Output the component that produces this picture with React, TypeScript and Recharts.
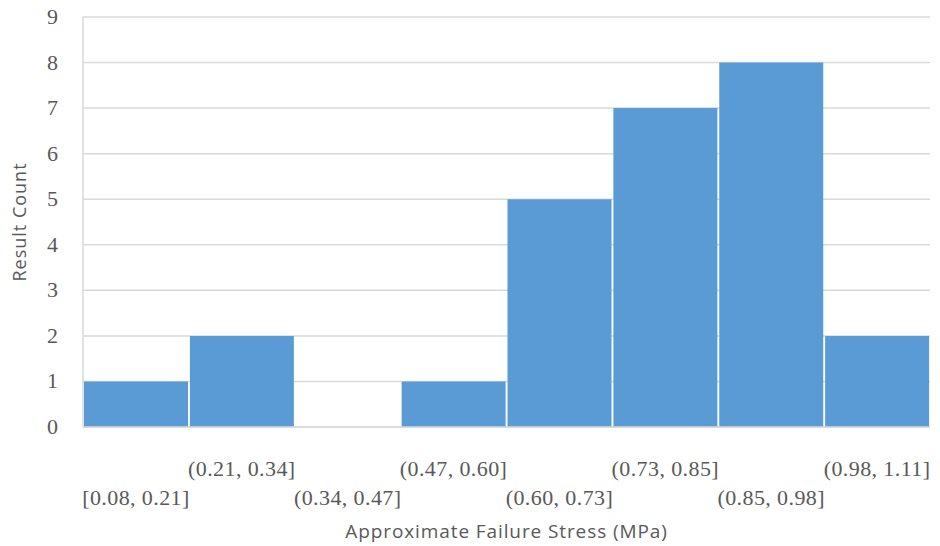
import React from 'react';
import { BarChart, Bar, XAxis, YAxis, CartesianGrid } from 'recharts';

const bins = [
  '[0.08, 0.21]',
  '(0.21, 0.34]',
  '(0.34, 0.47]',
  '(0.47, 0.60]',
  '(0.60, 0.73]',
  '(0.73, 0.85]',
  '(0.85, 0.98]',
  '(0.98, 1.11]',
];
const counts = [1, 2, 0, 1, 5, 7, 8, 2];
const yTicks = [0, 1, 2, 3, 4, 5, 6, 7, 8, 9];

const data = bins.map((b, i) => ({ bin: b, count: counts[i] }));

const serif = '"Liberation Serif", "DejaVu Serif", serif';
const sans = '"Open Sans", "Noto Sans", sans-serif';

const XTick = (props: any) => {
  const { x, y, payload, index } = props;
  const dy = index % 2 === 0 ? 70 : 41;
  return (
    <text
      x={x}
      y={y + dy}
      textAnchor="middle"
      fill="#595959"
      fontFamily={serif}
      fontSize={22}
      letterSpacing={0.4}
    >
      {payload.value}
    </text>
  );
};

const YTick = (props: any) => {
  const { x, y, payload } = props;
  return (
    <text x={x - 17} y={y + 7} textAnchor="end" fill="#595959" fontFamily={serif} fontSize={22}>
      {payload.value}
    </text>
  );
};

const XLabel = (props: any) => {
  const { viewBox } = props;
  const cx = viewBox.x + viewBox.width / 2;
  return (
    <text
      x={cx}
      y={538}
      textAnchor="middle"
      fill="#595959"
      fontFamily={sans}
      fontSize={19}
      letterSpacing={0.9}
    >
      Approximate Failure Stress (MPa)
    </text>
  );
};

const YLabel = (props: any) => {
  const { viewBox } = props;
  const cy = viewBox.y + viewBox.height / 2;
  const cx = 26;
  return (
    <text
      x={cx}
      y={cy}
      textAnchor="middle"
      fill="#595959"
      fontFamily={sans}
      fontSize={18}
      letterSpacing={1}
      transform={`rotate(-90, ${cx}, ${cy})`}
    >
      Result Count
    </text>
  );
};

export default function App() {
  return (
    <div style={{ position: 'absolute', left: 0, top: 0, width: 940, height: 546, background: '#fff' }}>
      <BarChart
        width={940}
        height={546}
        data={data}
        margin={{ top: 17, right: 10, left: 0, bottom: 0 }}
        barCategoryGap={1}
      >
        <CartesianGrid horizontal vertical={false} stroke="#d9d9d9" strokeWidth={1.5} />
        <XAxis
          dataKey="bin"
          height={119}
          interval={0}
          tickLine={false}
          axisLine={{ stroke: '#d9d9d9', strokeWidth: 1.5 }}
          tick={<XTick />}
          label={<XLabel />}
        />
        <YAxis
          width={83}
          domain={[0, 9]}
          ticks={yTicks}
          interval={0}
          tickLine={false}
          axisLine={{ stroke: '#d9d9d9', strokeWidth: 1.5 }}
          tick={<YTick />}
          label={<YLabel />}
        />
        <Bar dataKey="count" fill="#5b9bd5" isAnimationActive={false} />
      </BarChart>
    </div>
  );
}
